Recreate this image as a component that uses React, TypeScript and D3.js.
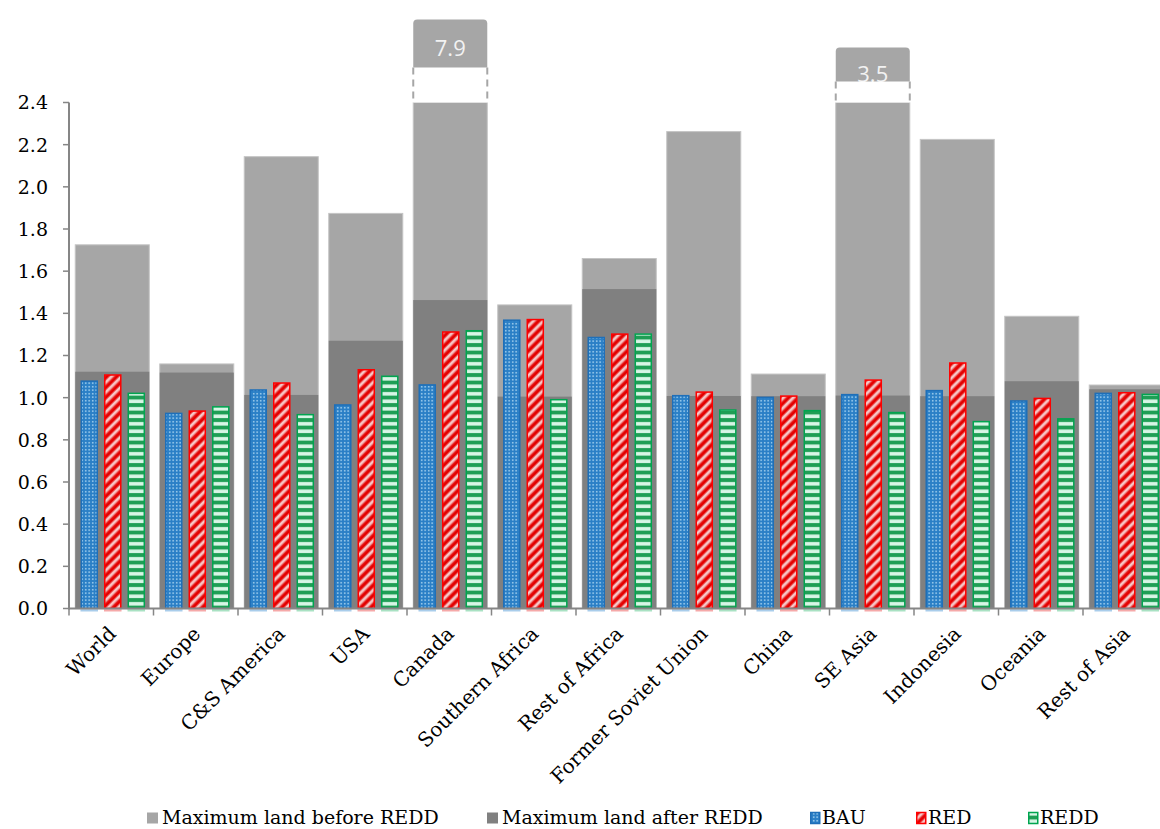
import React from 'react';
import * as d3 from 'd3';

// ---------- data ----------
const categories = [
  'World', 'Europe', 'C&S America', 'USA', 'Canada', 'Southern Africa', 'Rest of Africa',
  'Former Soviet Union', 'China', 'SE Asia', 'Indonesia', 'Oceania', 'Rest of Asia',
];
const maxBefore = [1.725, 1.16, 2.143, 1.874, 7.9, 1.44, 1.66, 2.262, 1.112, 3.5, 2.225, 1.386, 1.06];
const maxAfter = [1.123, 1.119, 1.013, 1.27, 1.463, 1.005, 1.515, 1.008, 1.007, 1.01, 1.007, 1.078, 1.04];
const bau = [1.082, 0.929, 1.04, 0.969, 1.064, 1.371, 1.289, 1.013, 1.005, 1.018, 1.037, 0.988, 1.024];
const red = [1.111, 0.94, 1.073, 1.136, 1.315, 1.374, 1.305, 1.03, 1.011, 1.087, 1.168, 1.0, 1.027];
const redd = [1.024, 0.96, 0.923, 1.105, 1.321, 0.994, 1.305, 0.945, 0.942, 0.933, 0.89, 0.903, 1.019];
const seriesNames = ['BAU', 'RED', 'REDD'];
const seriesValues = [bau, red, redd];
const yTicks = [0, 0.2, 0.4, 0.6, 0.8, 1.0, 1.2, 1.4, 1.6, 1.8, 2.0, 2.2, 2.4];
const yMax = 2.4;
const legendLabels = ['Maximum land before REDD', 'Maximum land after REDD', 'BAU', 'RED', 'REDD'];

// ---------- layout / style ----------
const W = 1160;
const H = 829;
const plotLeft = 69;
const bandStep = 84.5;
const plotBottom = 608.5;
const plotTop = 102.5;
const LIGHT = '#A6A6A6';
const DARK = '#808080';
const AXIS = '#868686';
const FONT = "'DejaVu Serif', Georgia, serif";
const seriesFill = ['url(#pBAU)', 'url(#pRED)', 'url(#pREDD)'];
const seriesStroke = ['#1F6FB8', '#FF0000', '#00A550'];
const seriesShadow = ['#A9CDEB', '#F6A9A9', '#A9E2C3'];
// break annotations for values beyond the axis (box height, gap height, label baseline offset)
const breakStyle: Record<string, { box: number; gap: number; base: number }> = {
  Canada: { box: 48, gap: 35, base: 36 },
  'SE Asia': { box: 34, gap: 21, base: 34 },
};
const legendX = [147, 487, 810, 916, 1028];
const legendBase = 824;

export default function App() {
  const x = d3
    .scaleBand<string>()
    .domain(categories)
    .range([plotLeft, plotLeft + bandStep * categories.length])
    .paddingInner(0)
    .paddingOuter(0);
  const y = d3.scaleLinear().domain([0, yMax]).range([plotBottom, plotTop]);
  const bw = x.bandwidth();
  const bgOffset = bw * 0.074;
  const bgWidth = bw * 0.876;
  const sub = d3
    .scaleBand<string>()
    .domain(seriesNames)
    .range([bw * 0.136, bw * 0.9])
    .paddingInner(0.255)
    .paddingOuter(0);
  const sw = sub.bandwidth();

  return (
    <svg
      width={W}
      height={H}
      viewBox={`0 0 ${W} ${H}`}
      style={{ position: 'absolute', left: 0, top: 0, background: '#fff' }}
    >
      <defs>
        <pattern id="pBAU" width="3.5" height="3.5" patternUnits="userSpaceOnUse">
          <rect width="3.5" height="3.5" fill="#2A7FC6" />
          <rect x="1" y="1" width="1.4" height="1.4" fill="#BFE3F7" />
        </pattern>
        <pattern
          id="pRED"
          width="7"
          height="7"
          patternUnits="userSpaceOnUse"
          patternTransform="rotate(45)"
        >
          <rect width="7" height="7" fill="#E30000" />
          <rect x="1" width="2.6" height="7" fill="#F7C6C6" />
          <rect x="0.4" width="0.6" height="7" fill="#EE8A8A" />
          <rect x="3.6" width="0.6" height="7" fill="#EE8A8A" />
        </pattern>
        <pattern id="pREDD" width="7.5" height="7.5" patternUnits="userSpaceOnUse">
          <rect width="7.5" height="7.5" fill="#1F9E55" />
          <rect y="2" width="7.5" height="3.6" fill="#D8F6E6" />
        </pattern>
      </defs>

      {/* background bars: maximum land before REDD */}
      {categories.map((c, i) => {
        const v = Math.min(maxBefore[i], yMax);
        return (
          <rect
            key={'mb' + c}
            x={(x(c) as number) + bgOffset}
            y={y(v)}
            width={bgWidth}
            height={y(0) - y(v)}
            fill={LIGHT}
            stroke="#C4C4C4"
            strokeWidth={1}
          />
        );
      })}

      {/* axis breaks for values beyond the axis */}
      {categories.map((c, i) => {
        if (maxBefore[i] <= yMax) return null;
        const s = breakStyle[c];
        const bx = (x(c) as number) + bgOffset;
        const gapTop = y(yMax) - s.gap;
        const boxTop = gapTop - s.box;
        return (
          <g key={'br' + c}>
            <rect x={bx} y={boxTop} width={bgWidth} height={s.box + 4} rx={4} ry={4} fill={LIGHT} />
            <text
              x={bx + bgWidth / 2}
              y={boxTop + s.base}
              textAnchor="middle"
              fontFamily="'Open Sans', sans-serif"
              fontSize={22}
              fill="#F2F2F2"
            >
              {d3.format('.1f')(maxBefore[i])}
            </text>
            <rect x={bx - 1} y={gapTop} width={bgWidth + 2} height={s.gap} fill="#fff" />
            <line x1={bx} x2={bx} y1={gapTop} y2={y(yMax)} stroke={LIGHT} strokeWidth={2} strokeDasharray="7 5" />
            <line
              x1={bx + bgWidth}
              x2={bx + bgWidth}
              y1={gapTop}
              y2={y(yMax)}
              stroke={LIGHT}
              strokeWidth={2}
              strokeDasharray="7 5"
            />
          </g>
        );
      })}

      {/* maximum land after REDD */}
      {categories.map((c, i) => (
        <rect
          key={'ma' + c}
          x={(x(c) as number) + bgOffset}
          y={y(maxAfter[i])}
          width={bgWidth}
          height={y(0) - y(maxAfter[i])}
          fill={DARK}
        />
      ))}

      {/* scenario bars */}
      {categories.map((c, i) =>
        seriesNames.map((s, k) => {
          const v = seriesValues[k][i];
          const bx = (x(c) as number) + (sub(s) as number);
          return (
            <g key={s + c}>
              <rect
                x={bx + 0.75}
                y={y(v) + 0.75}
                width={sw - 1.5}
                height={y(0) - y(v) - 0.75}
                fill={seriesFill[k]}
                stroke={seriesStroke[k]}
                strokeWidth={1.5}
              />
              <rect x={bx} y={y(0) + 1} width={sw} height={2} fill={seriesShadow[k]} />
            </g>
          );
        })
      )}

      {/* y axis */}
      <line x1={plotLeft} x2={plotLeft} y1={plotTop} y2={plotBottom + 1} stroke={AXIS} strokeWidth={2} />
      {yTicks.map((t) => (
        <g key={'yt' + t}>
          <line x1={plotLeft - 6} x2={plotLeft} y1={y(t)} y2={y(t)} stroke={AXIS} strokeWidth={1.5} />
          <text
            x={plotLeft - 21}
            y={y(t)}
            dy="0.36em"
            textAnchor="end"
            fontFamily={FONT}
            fontSize={19}
            fill="#000"
          >
            {d3.format('.1f')(t)}
          </text>
        </g>
      ))}

      {/* x axis */}
      <line
        x1={plotLeft}
        x2={plotLeft + bandStep * categories.length}
        y1={plotBottom}
        y2={plotBottom}
        stroke={AXIS}
        strokeWidth={2}
      />
      {categories.concat(['']).map((c, i) => {
        const tx = plotLeft + i * bandStep;
        return <line key={'xt' + i} x1={tx} x2={tx} y1={plotBottom} y2={plotBottom + 7} stroke={AXIS} strokeWidth={1.5} />;
      })}
      {categories.map((c) => {
        const cx = (x(c) as number) + bw / 2 + 6;
        return (
          <text
            key={'xl' + c}
            transform={`translate(${cx},635) rotate(-45)`}
            textAnchor="end"
            fontFamily={FONT}
            fontSize={20}
            fill="#000"
          >
            {c}
          </text>
        );
      })}

      {/* legend */}
      {legendLabels.map((lab, i) => {
        const lx = legendX[i];
        const isScenario = i >= 2;
        return (
          <g key={'lg' + lab}>
            {isScenario ? (
              <rect
                x={lx + 0.75}
                y={legendBase - 11.5}
                width={9}
                height={11}
                fill={seriesFill[i - 2]}
                stroke={seriesStroke[i - 2]}
                strokeWidth={1.5}
              />
            ) : (
              <rect x={lx} y={legendBase - 11.5} width={11} height={11} fill={i === 0 ? LIGHT : DARK} />
            )}
            <text x={lx + (isScenario ? 12 : 15)} y={legendBase} fontFamily={FONT} fontSize={19} fill="#000">
              {lab}
            </text>
          </g>
        );
      })}
    </svg>
  );
}
